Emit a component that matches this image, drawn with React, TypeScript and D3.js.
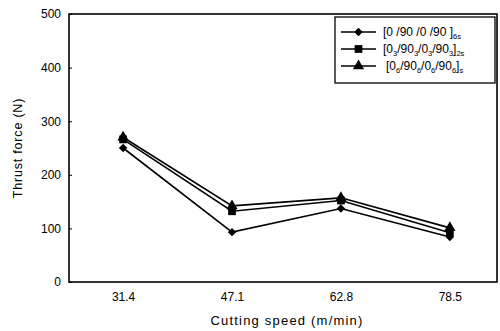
import React, { useEffect, useRef } from "react";
import * as d3 from "d3";

const speeds = [31.4, 47.1, 62.8, 78.5];
const series6s = [250, 93, 137, 84];
const series2s = [266, 132, 152, 92];
const seriesS = [270, 142, 157, 101];
const yTicks = [0, 100, 200, 300, 400, 500];

const W = 500;
const H = 331;

const App = () => {
  const svgRef = useRef<SVGSVGElement>(null);

  useEffect(() => {
    const svg = d3.select(svgRef.current);
    svg.selectAll("*").remove();

    const margin = { top: 14, right: 3, bottom: 49, left: 69 };
    const x = d3.scaleLinear().domain([23.6, 85.3]).range([margin.left, W - margin.right]);
    const y = d3.scaleLinear().domain([0, 500]).range([H - margin.bottom, margin.top]);
    const font = "Arial, 'Liberation Sans', sans-serif";

    // frame
    svg.append("rect")
      .attr("x", margin.left)
      .attr("y", margin.top)
      .attr("width", W - margin.right - margin.left)
      .attr("height", H - margin.bottom - margin.top)
      .attr("fill", "none")
      .attr("stroke", "black")
      .attr("stroke-width", 1.6);

    // y axis
    const yAxis = svg.append("g")
      .attr("transform", `translate(${margin.left},0)`)
      .call(d3.axisLeft(y).tickValues(yTicks).tickSize(-3).tickPadding(8));
    yAxis.select(".domain").remove();
    yAxis.selectAll("text").attr("font-size", 12).attr("font-family", font).attr("fill", "black");
    yAxis.selectAll("line").attr("stroke", "black");

    // x axis
    const xAxis = svg.append("g")
      .attr("transform", `translate(0,${H - margin.bottom})`)
      .call(d3.axisBottom(x).tickValues(speeds).tickFormat(d3.format(".1f")).tickSize(0).tickPadding(10));
    xAxis.select(".domain").remove();
    xAxis.selectAll("text").attr("font-size", 12).attr("font-family", font).attr("fill", "black");

    // axis titles
    svg.append("text")
      .attr("x", 287)
      .attr("y", 325)
      .attr("text-anchor", "middle")
      .attr("font-size", 13)
      .attr("font-family", font)
      .attr("letter-spacing", 1.2)
      .text("Cutting speed (m/min)");

    svg.append("text")
      .attr("transform", `translate(22,${y(250)}) rotate(-90)`)
      .attr("text-anchor", "middle")
      .attr("font-size", 12.5)
      .attr("font-family", font)
      .attr("letter-spacing", 0.8)
      .text("Thrust  force (N)");

    const line = d3.line<number>()
      .x((d, i) => x(speeds[i]))
      .y((d) => y(d));

    const symbols = [d3.symbolDiamond2, d3.symbolSquare, d3.symbolTriangle];
    const sizes = [45, 60, 55];
    const allSeries = [series6s, series2s, seriesS];

    allSeries.forEach((s, k) => {
      svg.append("path")
        .attr("d", line(s))
        .attr("fill", "none")
        .attr("stroke", "black")
        .attr("stroke-width", 1.6);
      svg.selectAll(null)
        .data(s)
        .join("path")
        .attr("transform", (d, i) => `translate(${x(speeds[i])},${y(d)})`)
        .attr("d", d3.symbol(symbols[k], sizes[k])())
        .attr("fill", "black");
    });

    // legend
    const lg = svg.append("g");
    lg.append("rect")
      .attr("x", 335)
      .attr("y", 17)
      .attr("width", 160)
      .attr("height", 66)
      .attr("fill", "white")
      .attr("stroke", "black")
      .attr("stroke-width", 1.3);

    const labels = [
      [["[0 /90 /0 /90 ]", false], ["6s", true]],
      [["[0", false], ["3", true], ["/90", false], ["3", true], ["/0", false], ["3", true], ["/90", false], ["3", true], ["]", false], ["2s", true]],
      [["[0", false], ["6", true], ["/90", false], ["6", true], ["/0", false], ["6", true], ["/90", false], ["6", true], ["]", false], ["s", true]],
    ] as [string, boolean][][];
    const rowY = [32, 49, 66];
    const textX = [383, 383, 386];

    labels.forEach((parts, k) => {
      lg.append("line")
        .attr("x1", 341).attr("x2", 376)
        .attr("y1", rowY[k]).attr("y2", rowY[k])
        .attr("stroke", "black").attr("stroke-width", 1.6);
      lg.append("path")
        .attr("transform", `translate(358.5,${rowY[k]})`)
        .attr("d", d3.symbol(symbols[k], sizes[k])())
        .attr("fill", "black");
      const t = lg.append("text")
        .attr("x", textX[k])
        .attr("y", rowY[k] + 4)
        .attr("font-size", 12)
        .attr("font-family", font);
      parts.forEach(([str, sub], i) => {
        const ts = t.append("tspan").text(str);
        if (sub) ts.attr("font-size", 7.5).attr("dy", 3);
        else if (i > 0 && parts[i - 1][1]) ts.attr("dy", -3);
      });
    });
  }, []);

  return (
    <div>
      <svg ref={svgRef} width={W} height={H} style={{ position: "absolute", left: 0, top: 0 }}></svg>
    </div>
  );
};

export default App;
